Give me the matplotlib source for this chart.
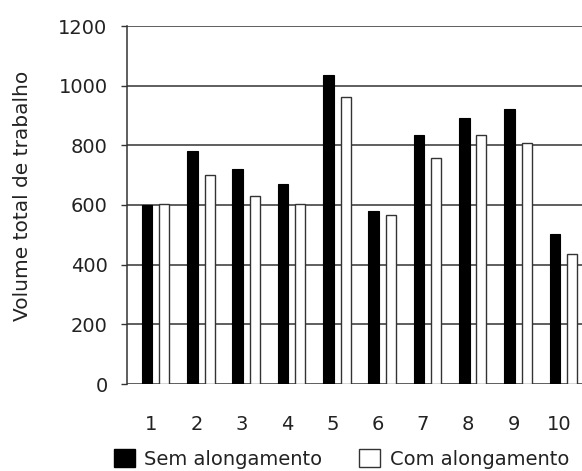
import matplotlib
matplotlib.use("Agg")
import matplotlib.pyplot as plt
import numpy as np
from matplotlib.patches import Patch

categories = ["1", "2", "3", "4", "5", "6", "7", "8", "9", "10"]
sem_alongamento = [600, 782, 722, 669, 1035, 580, 836, 892, 921, 503]
com_alongamento = [604, 702, 629, 603, 963, 568, 759, 835, 807, 436]
yticks = [0, 200, 400, 600, 800, 1000, 1200]

plt.rcParams['font.family'] = ['DejaVu Sans']
fig = plt.figure(figsize=(5.82, 4.71), dpi=100)
ax = fig.add_axes([127/582, 87/471, (582-127)/582, 358/471])

x = np.arange(len(categories))
grid_c = "#333333"
ax.bar(x - 0.19, sem_alongamento, width=0.235, color="black", edgecolor="black", linewidth=0.8, zorder=3)
ax.bar(x + 0.19, com_alongamento, width=0.22, color="white", edgecolor=grid_c, linewidth=1.0, zorder=3)

ax.set_xlim(-0.635, 9.41)
ax.set_ylim(0, 1200)
ax.set_yticks(yticks)
ax.set_yticklabels([str(v) for v in yticks], fontsize=14, color="#222222")
ax.set_xticks(x - 0.1)
ax.set_xticklabels(categories, fontsize=14, color="#222222")
ax.tick_params(axis="x", length=0, pad=22)
ax.tick_params(axis="y", length=4, width=1, color=grid_c, pad=10)
ax.yaxis.grid(True, color=grid_c, linewidth=1.1, zorder=0)
ax.set_axisbelow(True)
for s in ["top", "right", "bottom"]:
    ax.spines[s].set_visible(False)
ax.spines["left"].set_color(grid_c)
ax.spines["left"].set_linewidth(1.1)

ax.set_ylabel("Volume total de trabalho", fontsize=14.5, color="#222222")
ax.yaxis.set_label_coords(-0.209, 0.525)

handles = [Patch(facecolor="black", edgecolor="black"),
           Patch(facecolor="white", edgecolor=grid_c, linewidth=1.0)]
fig.legend(handles, ["Sem alongamento", "Com alongamento"], loc="center",
           bbox_to_anchor=(0.587, 0.025), ncol=2, frameon=False, fontsize=14,
           handlelength=1.05, handleheight=1.05, handletextpad=0.5, columnspacing=1.9,
           labelcolor="#222222")

fig.savefig("out.png", dpi=100)
